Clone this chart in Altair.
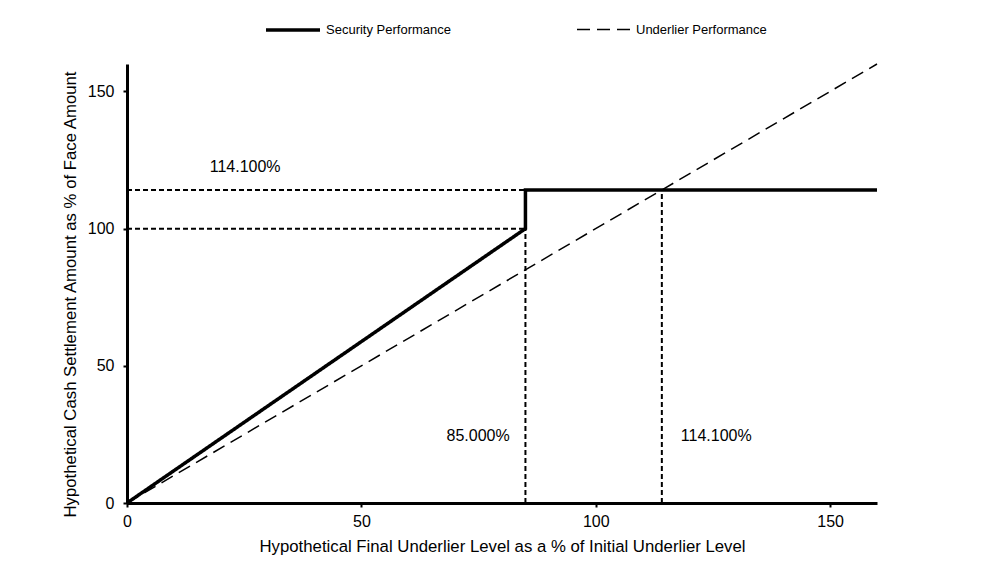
import altair as alt
import pandas as pd

# Series data
series_names = ["Security Performance", "Underlier Performance"]
sec_x = [0, 85, 85, 160]
sec_y = [0, 100, 114.1, 114.1]
und_x = [0, 160]
und_y = [0, 160]

# Reference dashed segments
ref_x1 = [0, 0, 85, 114.1]
ref_x2 = [85, 85, 85, 114.1]
ref_y1 = [100, 114.1, 0, 0]
ref_y2 = [100, 114.1, 100, 114.1]

# Annotation labels
label_text = ["114.100%", "85.000%", "114.100%"]
label_x = [25.2, 74.9, 125.7]
label_y = [122.5, 24.5, 24.5]

tick_vals = [0, 50, 100, 150]

rows = []
for i, (x, y) in enumerate(zip(sec_x, sec_y)):
    rows.append({"series": series_names[0], "x": x, "y": y, "i": i})
for i, (x, y) in enumerate(zip(und_x, und_y)):
    rows.append({"series": series_names[1], "x": x, "y": y, "i": i})
lines_df = pd.DataFrame(rows)
ref_df = pd.DataFrame({"x1": ref_x1, "x2": ref_x2, "y1": ref_y1, "y2": ref_y2})
lab_df = pd.DataFrame({"t": label_text, "x": label_x, "y": label_y})

FONT = "Liberation Sans"

xscale = alt.Scale(domain=[0, 160], nice=False)
yscale = alt.Scale(domain=[0, 160], nice=False)

xaxis = alt.Axis(values=tick_vals, title="Hypothetical Final Underlier Level as a % of Initial Underlier Level",
                 grid=False, labelPadding=6, titlePadding=9, labelFlush=False)
yaxis = alt.Axis(values=tick_vals, title="Hypothetical Cash Settlement Amount as % of Face Amount",
                 grid=False, labelPadding=9, titlePadding=8, titleY=230, labelFlush=False)

refs = alt.Chart(ref_df).mark_rule(color="black", strokeWidth=2, strokeDash=[5, 3]).encode(
    x=alt.X("x1:Q", scale=xscale, axis=xaxis),
    x2="x2:Q",
    y=alt.Y("y1:Q", scale=yscale, axis=yaxis),
    y2="y2:Q",
)

lines = alt.Chart(lines_df).mark_line(strokeCap="butt", strokeJoin="miter").encode(
    x=alt.X("x:Q", scale=xscale),
    y=alt.Y("y:Q", scale=yscale),
    order=alt.Order("i:Q"),
    color=alt.Color("series:N", scale=alt.Scale(domain=series_names, range=["black", "black"]),
                    legend=alt.Legend(title=None)),
    strokeDash=alt.StrokeDash("series:N", scale=alt.Scale(domain=series_names, range=[[1, 0], [13, 7]]),
                              legend=alt.Legend(title=None)),
    strokeWidth=alt.StrokeWidth("series:N", scale=alt.Scale(domain=series_names, range=[3.5, 1.5]),
                                legend=alt.Legend(title=None)),
)

labels = alt.Chart(lab_df).mark_text(font=FONT, fontSize=16, color="black").encode(
    x=alt.X("x:Q", scale=xscale),
    y=alt.Y("y:Q", scale=yscale),
    text="t:N",
)

chart = alt.layer(refs, lines, labels).properties(
    width=750, height=439,
    autosize=alt.AutoSizeParams(type="none"),
    padding={"left": 119, "top": 56, "right": 10, "bottom": 60},
).configure_view(stroke=None).configure_axis(
    domainColor="black", domainWidth=3, tickColor="black", tickWidth=2, tickSize=4,
    labelFont=FONT, labelFontSize=16, labelColor="black",
    titleFont=FONT, titleFontSize=16.75, titleFontWeight="normal", titleColor="black",
).configure_legend(
    orient="none", legendX=137, legendY=-63, direction="horizontal",
    symbolType="stroke", symbolSize=2916, labelFont=FONT, labelFontSize=13, labelColor="black",
    labelOffset=4, columnPadding=123, symbolStrokeColor="black",
)

chart.save("out.html", embed_options={"renderer": "svg", "actions": False})
